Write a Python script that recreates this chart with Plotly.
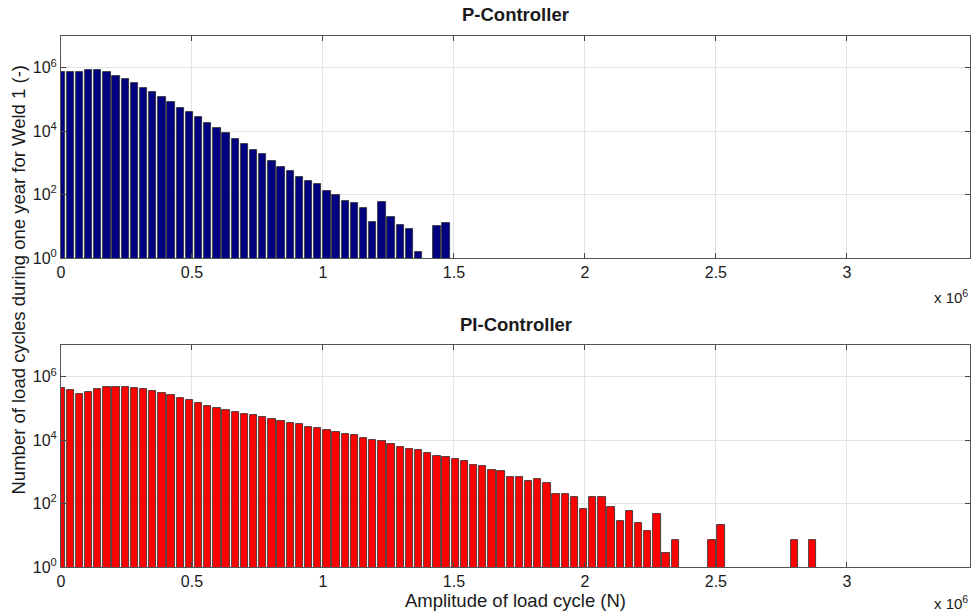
import numpy as np
import plotly.graph_objects as go
from plotly.subplots import make_subplots

BIN_WIDTH = 0.035e6  # amplitude bin width (N)

# Number of load cycles per amplitude bin (bin k centred at k*BIN_WIDTH)
p_counts = [760000, 710000, 740000, 870000, 830000, 710000, 560000, 430000, 320000, 230000,
            166000, 120000, 83000, 55000, 39000, 27500, 18200, 12900, 8700, 5750,
            3800, 2630, 1860, 1120, 740, 540, 370, 270, 210, 132,
            100, 65, 55, 39, 14, 59, 20, 11, 8.5, 1.5,
            None, 10, 13]

pi_counts = [427000, 380000, 295000, 339000, 407000, 468000, 490000, 479000, 447000, 417000,
             355000, 309000, 263000, 214000, 182000, 148000, 123000, 105000, 87000, 79000,
             69000, 60000, 52500, 46800, 40700, 34700, 31600, 26300, 24000, 20400,
             17800, 15100, 14100, 11700, 9800, 9100, 7400, 6300, 5200, 4800,
             3900, 3160, 2950, 2630, 2190, 1700, 1580, 1150, 1070, 680,
             680, 510, 600, 440, 204, 204, 166, 69, 158, 162,
             78, 28, 59, 25, 14, 48, 2.8, 7, None, None,
             None, 7, 21, None, None, None, None, None, None, None,
             7, None, 7]

x_tick_vals = [0, 0.5e6, 1e6, 1.5e6, 2e6, 2.5e6, 3e6]
x_tick_text = ["0", "0.5", "1", "1.5", "2", "2.5", "3"]
y_tick_vals = [1, 1e2, 1e4, 1e6]
y_tick_text = ["10<sup>0</sup>", "10<sup>2</sup>", "10<sup>4</sup>", "10<sup>6</sup>"]

titles = ["P-Controller", "PI-Controller"]
x_label = "Amplitude of load cycle (N)"
y_label = "Number of load cycles during one year for Weld 1 (-)"

p_x = np.arange(len(p_counts)) * BIN_WIDTH
pi_x = np.arange(len(pi_counts)) * BIN_WIDTH

FONT = "Liberation Sans, Arial, sans-serif"
TXT = "#1a1a1a"

fig = make_subplots(rows=2, cols=1, vertical_spacing=0.1638)

fig.add_trace(go.Bar(x=p_x, y=p_counts, width=BIN_WIDTH * 0.8,
                     marker=dict(color="#000080", line=dict(color="#2a2a2a", width=0.8)),
                     showlegend=False), row=1, col=1)
fig.add_trace(go.Bar(x=pi_x, y=pi_counts, width=BIN_WIDTH * 0.8,
                     marker=dict(color="#ff0000", line=dict(color="#2a2a2a", width=0.8)),
                     showlegend=False), row=2, col=1)

fig.update_layout(
    width=976, height=612,
    margin=dict(l=61, r=6, t=36, b=45),
    paper_bgcolor="white", plot_bgcolor="white",
    font=dict(family=FONT, size=16, color=TXT),
    bargap=0,
)

for r in (1, 2):
    fig.update_xaxes(row=r, col=1, range=[0, 3.47e6], tickvals=x_tick_vals, ticktext=x_tick_text,
                     showgrid=True, gridcolor="#e4e4e4", gridwidth=1,
                     ticks="inside", ticklen=5, tickcolor="#444",
                     showline=True, linecolor="#555", linewidth=1, mirror="ticks",
                     zeroline=False, automargin=False, tickfont=dict(size=16, color=TXT))
    fig.update_yaxes(row=r, col=1, type="log", range=[0, 7], tickvals=y_tick_vals, ticktext=y_tick_text,
                     showgrid=True, gridcolor="#e4e4e4", gridwidth=1,
                     ticks="inside", ticklen=5, tickcolor="#444",
                     showline=True, linecolor="#555", linewidth=1, mirror="ticks",
                     zeroline=False, automargin=False, tickfont=dict(size=16, color=TXT))

fig.update_xaxes(row=2, col=1, title=dict(text=x_label, font=dict(size=18.5, color=TXT), standoff=0))

fig.add_annotation(text="<b>%s</b>" % titles[0], xref="paper", yref="paper", x=0.5, y=1.0,
                   yanchor="middle", yshift=22, showarrow=False, font=dict(size=18.5, color=TXT))
fig.add_annotation(text="<b>%s</b>" % titles[1], xref="paper", yref="paper", x=0.5, y=0.4181,
                   yanchor="middle", yshift=20, showarrow=False, font=dict(size=18.5, color=TXT))
fig.add_annotation(text="x 10<sup>6</sup>", xref="paper", yref="paper", x=1.0, y=0.5819,
                   xanchor="right", yanchor="middle", yshift=-38, showarrow=False,
                   font=dict(size=15, color=TXT))
fig.add_annotation(text="x 10<sup>6</sup>", xref="paper", yref="paper", x=1.0, y=0.0,
                   xanchor="right", yanchor="middle", yshift=-35, showarrow=False,
                   font=dict(size=15, color=TXT))
fig.add_annotation(text=y_label, xref="paper", yref="paper", x=0, y=0.5405, xshift=-55,
                   textangle=-90, showarrow=False, font=dict(size=18.5, color=TXT))

fig.write_html("out.html", config={"displayModeBar": False},
               post_script="document.body.style.margin='0px';")
